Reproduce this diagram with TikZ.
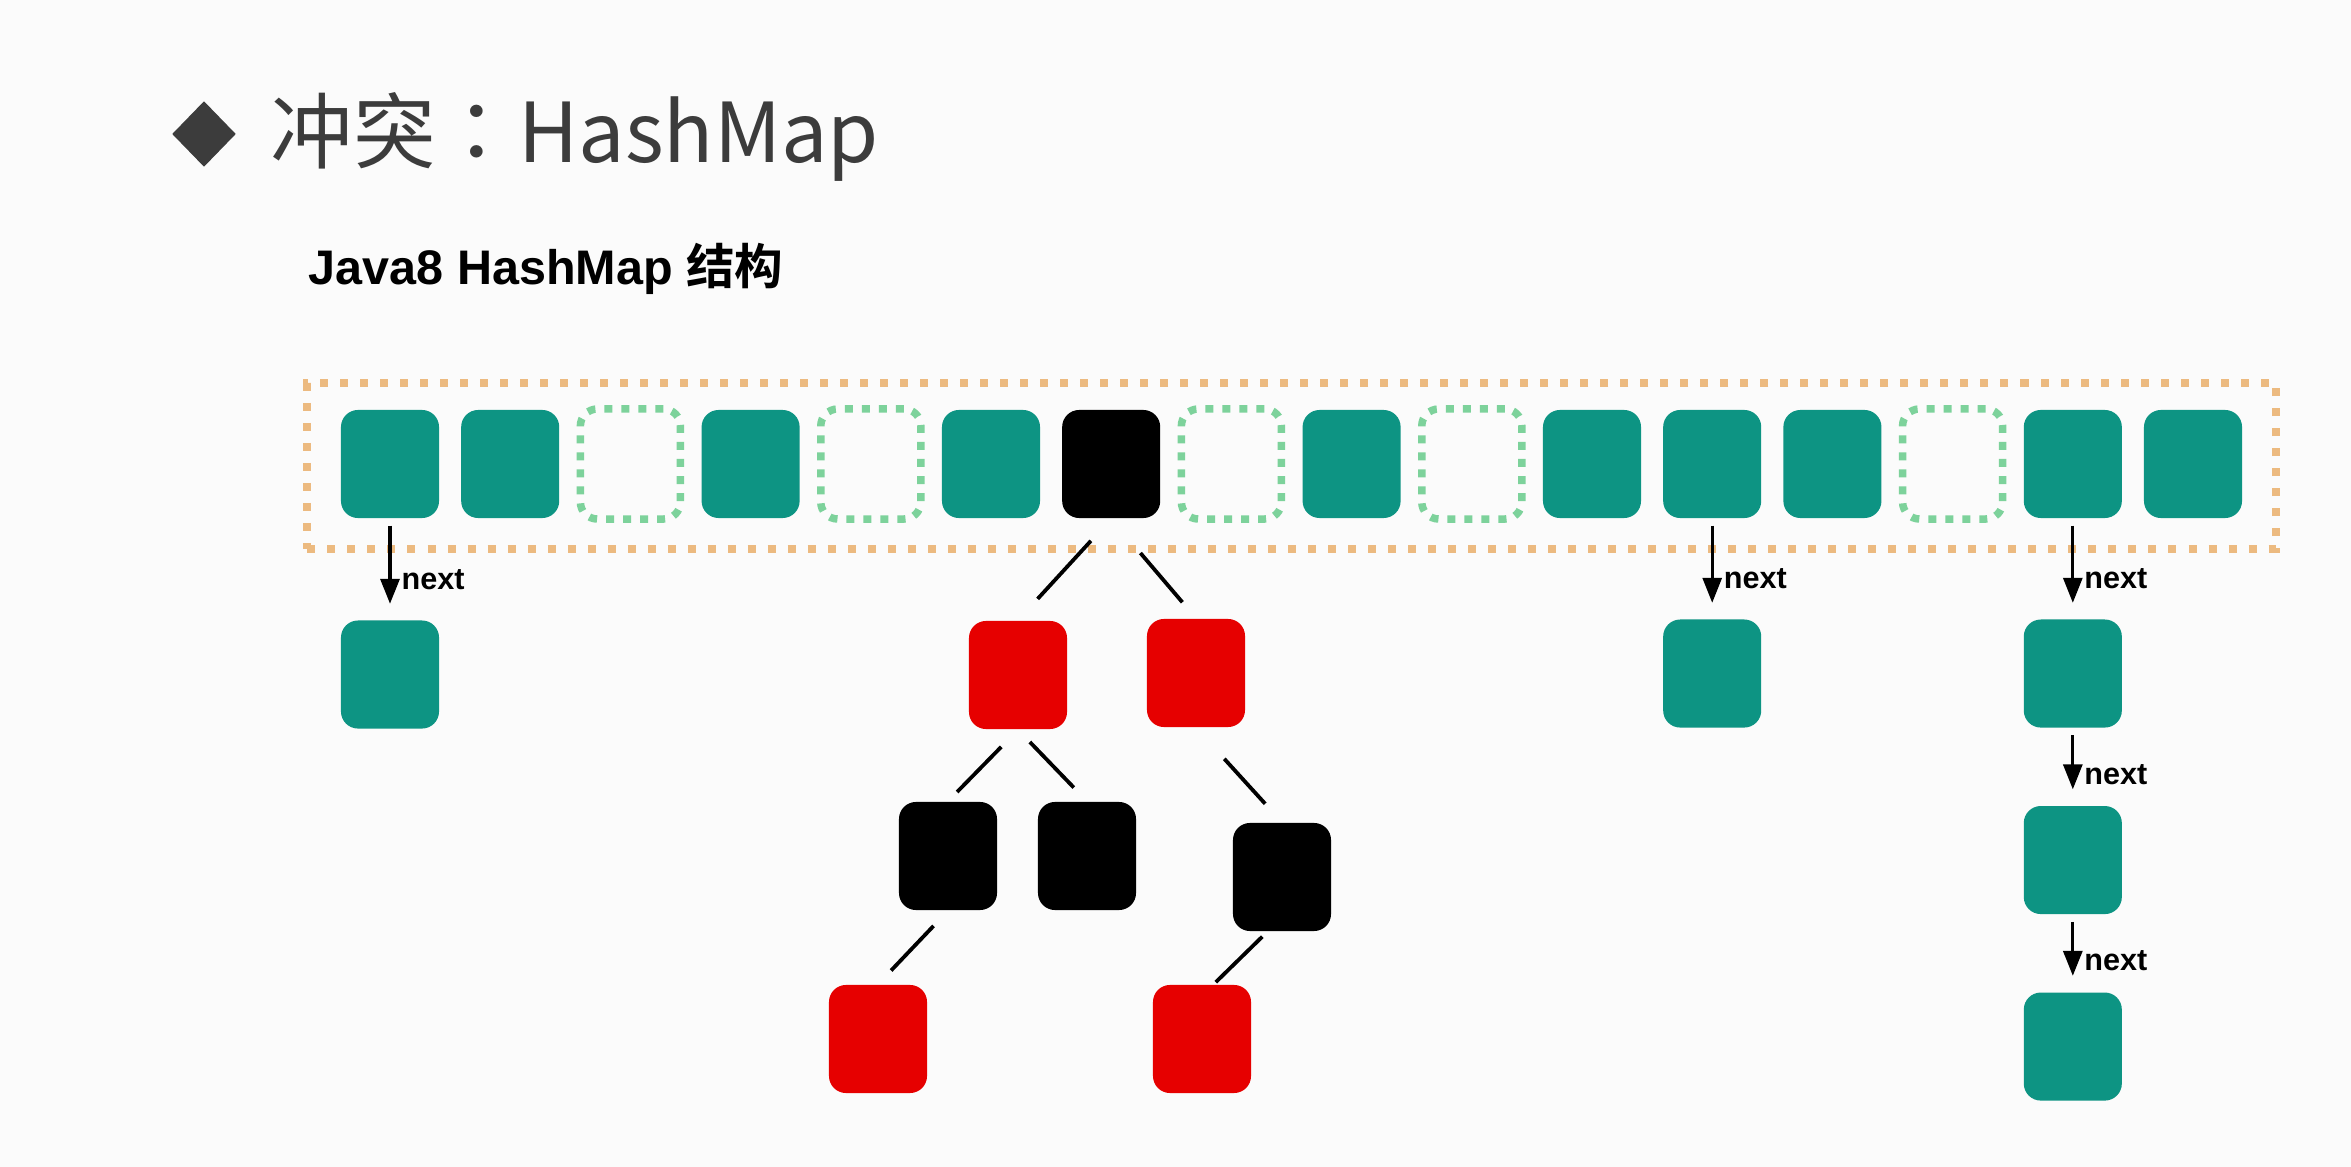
\documentclass[tikz,border=0pt]{standalone}
\usepackage{fontspec}
\setmainfont{Liberation Sans}
\newfontfamily\cjkfont{Noto Sans CJK SC}[BoldFont={Noto Sans CJK SC Bold}]
\newfontfamily\cjkpunct{Noto Sans CJK TC}
\usetikzlibrary{arrows.meta, positioning, shapes.geometric}

\definecolor{entryteal}{RGB}{13,148,131}
\definecolor{treered}{RGB}{230,0,0}
\definecolor{slotgreen}{RGB}{125,210,155}
\definecolor{tableorange}{RGB}{236,186,128}
\definecolor{titlegray}{RGB}{60,60,60}
\definecolor{pagebg}{RGB}{251,251,251}

\begin{document}
\begin{tikzpicture}[x=0.01cm, y=-0.01cm,
    cell/.style={rectangle, rounded corners=0.17cm, minimum width=0.98cm, minimum height=1.08cm, inner sep=0pt},
    cell e/.style={cell, fill=entryteal},
    cell s/.style={cell, draw=slotgreen, line width=0.075cm, dash pattern=on 0.08cm off 0.09cm, minimum width=1.0cm, minimum height=1.1cm},
    cell b/.style={cell, fill=black},
    cell r/.style={cell, fill=treered},
    tableframe/.style={rectangle, draw=tableorange, line width=0.08cm, dash pattern=on 0.08cm off 0.12cm, minimum width=19.67cm, minimum height=1.66cm, inner sep=0pt},
    nextarrow/.style={draw=black, line width=0.032cm, -{Triangle[length=0.25cm, width=0.19cm]}, shorten <=0.07cm, shorten >=0.16cm},
    nextlabel/.style={right, pos=0.6, inner sep=0.1cm, font=\bfseries\fontsize{8.7}{10}\selectfont},
    edge/.style={draw=black, line width=0.038cm}
]
    \fill[pagebg] (0,0) rectangle (2351,1167);
    \useasboundingbox (0,0) rectangle (2351,1167);

    % Title
    \node[diamond, fill=titlegray, minimum width=0.64cm, minimum height=0.66cm, inner sep=0pt] (bullet) at (204,134) {};
    \node[anchor=base west, inner sep=0pt, text=titlegray, font=\cjkfont\fontsize{23.5}{28}\selectfont] (title) at (270,163) {冲突{\cjkpunct ：}HashMap};
    \node[anchor=base west, inner sep=0pt, font=\bfseries\fontsize{13.8}{16}\selectfont] (subtitle) at (308,285) {Java8 HashMap {\cjkfont 结构}};

    % Table
    \node[tableframe] (table) at (1291.5,466) {};
    \foreach \k [count=\i] in {e,e,s,e,s,e,b,s,e,s,e,e,e,s,e,e}
        \node[cell \k] (b\i) at ({390+120.2*(\i-1)},464) {};

    % Linked lists
    \node[cell e, below=1.01cm of b1] (c1) {};
    \node[cell e, below=1.0cm of b12] (c12) {};
    \node[cell e, below=1.0cm of b15] (c15a) {};
    \node[cell e, below=0.77cm of c15a] (c15b) {};
    \node[cell e, below=0.77cm of c15b] (c15c) {};

    \draw[nextarrow] (b1) -- node[nextlabel] {next} (c1);
    \draw[nextarrow] (b12) -- node[nextlabel] {next} (c12);
    \draw[nextarrow] (b15) -- node[nextlabel] {next} (c15a);
    \draw[nextarrow] (c15a) -- node[nextlabel] {next} (c15b);
    \draw[nextarrow] (c15b) -- node[nextlabel] {next} (c15c);

    % Red-black tree
    \node[cell r] (rl) at (1018,675) {};
    \node[cell r] (rr) at (1196,673) {};
    \node[cell b] (rll) at (948,856) {};
    \node[cell b] (rlr) at (1087,856) {};
    \node[cell b] (rrr) at (1282,877) {};
    \node[cell r] (rlll) at (878,1039) {};
    \node[cell r] (rrrl) at (1202,1039) {};

    \foreach \a/\b/\s/\e in {b7.south/rl.north/0.30/0.29, b7.south/rr.north/0.45/0.21,
                             rl.south/rll.north/0.24/0.13, rl.south/rlr.north/0.17/0.19,
                             rll.south/rlll.north/0.21/0.19, rr.south/rrr.north/0.42/0.25,
                             rrr.-105/rrrl.78/0.07/0.03}
        \draw[edge, shorten <=\s cm, shorten >=\e cm] (\a) -- (\b);
\end{tikzpicture}
\end{document}
